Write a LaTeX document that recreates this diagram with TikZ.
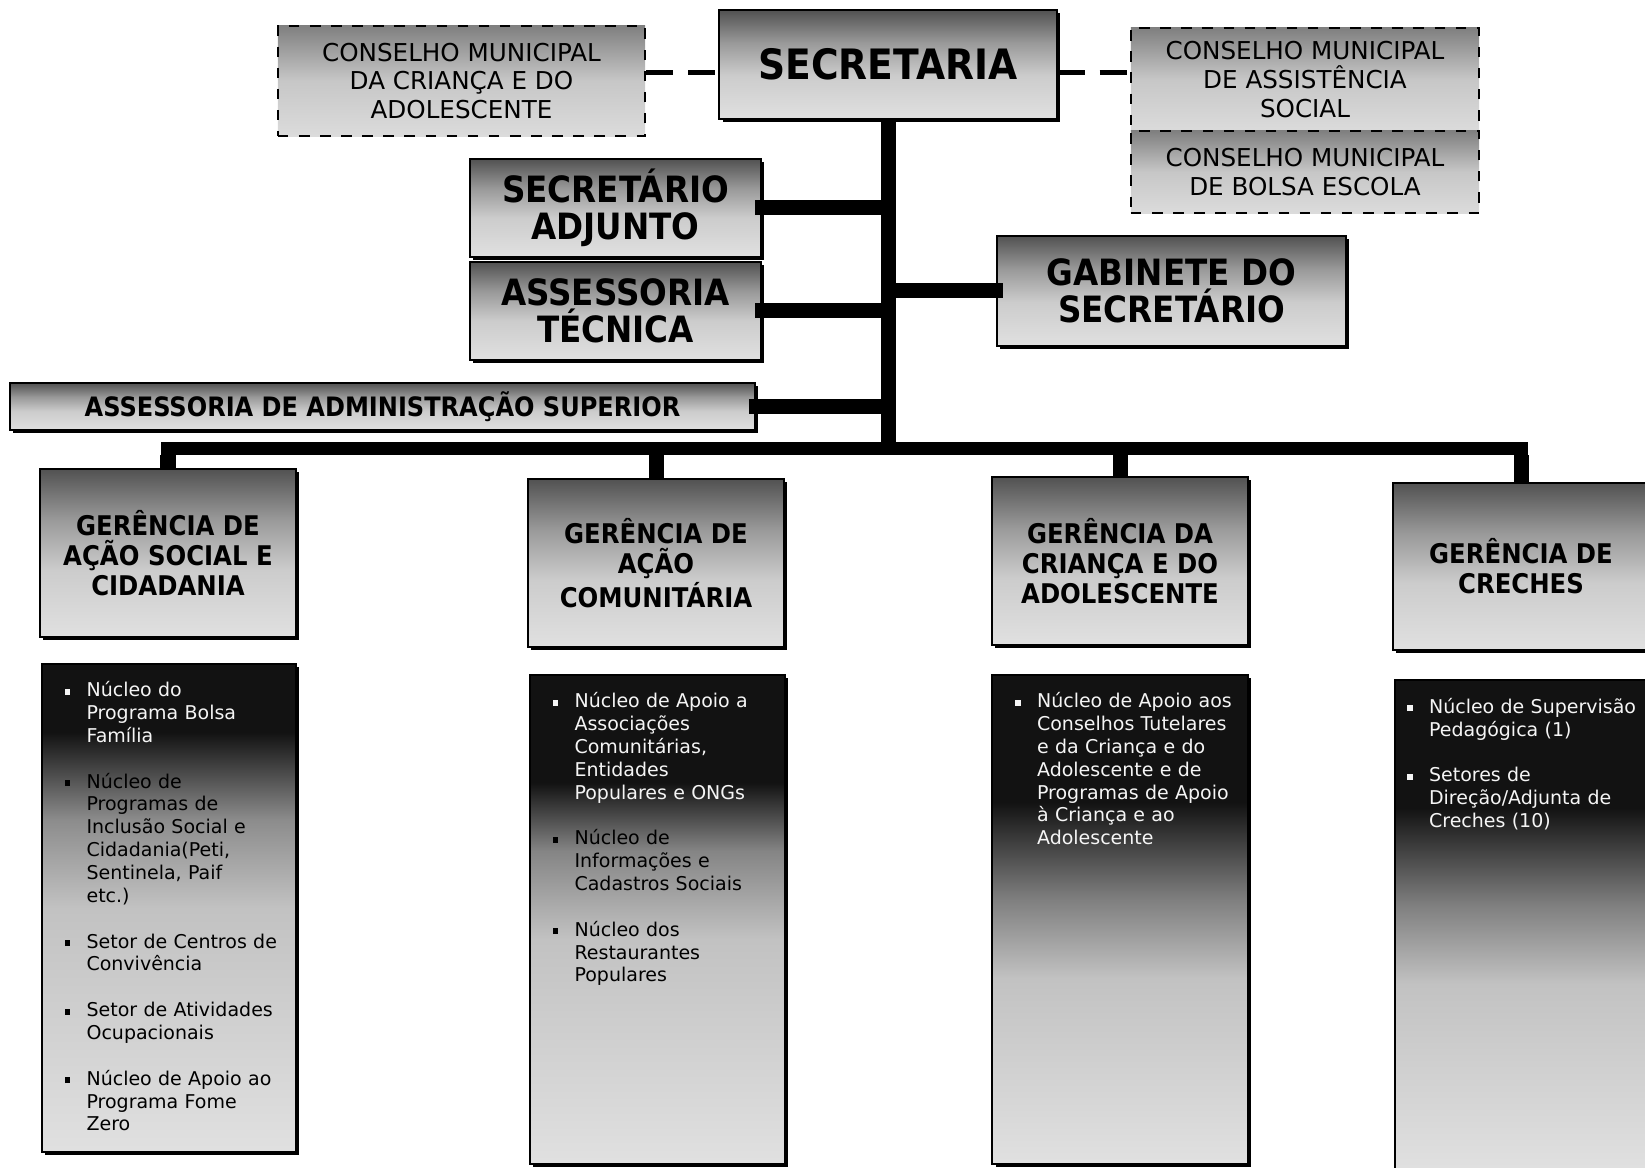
\documentclass[tikz,border=0pt]{standalone}
\usepackage{fontspec}
\setmainfont{DejaVu Sans}[BoldFeatures={FakeStretch=0.9}]
\usepackage{tikz}
\usetikzlibrary{calc,shadows}

\pgfdeclareverticalshading{hdshade}{100bp}{color(0bp)=(black!12); color(25bp)=(black!12); color(45bp)=(black!20); color(60bp)=(black!40); color(75bp)=(black!68); color(100bp)=(black!68)}
\pgfdeclareverticalshading{subshade}{100bp}{color(0bp)=(black!12); color(25bp)=(black!12); color(44bp)=(black!24); color(52bp)=(black!50); color(62bp)=(black!93); color(100bp)=(black!93)}
\pgfdeclareverticalshading{subshadeb}{100bp}{color(0bp)=(black!12); color(25bp)=(black!12); color(48bp)=(black!24); color(57bp)=(black!48); color(64bp)=(black!93); color(100bp)=(black!93)}
\pgfdeclareverticalshading{subshadea}{100bp}{color(0bp)=(black!12); color(25bp)=(black!12); color(50bp)=(black!24); color(59bp)=(black!45); color(68bp)=(black!93); color(100bp)=(black!93)}
\pgfdeclareverticalshading{cshade}{100bp}{color(0bp)=(black!14); color(25bp)=(black!14); color(50bp)=(black!22); color(75bp)=(black!50); color(100bp)=(black!50)}

\newcommand{\bul}{\leavevmode\llap{\makebox[0.22cm][l]{\rule[0.2ex]{0.55ex}{0.55ex}}}}

\begin{document}
\begin{tikzpicture}[x=0.01cm, y=-0.01cm,
        box/.style={draw=black, line width=0.6pt, shade, shading=hdshade, align=center, inner sep=0pt,
            drop shadow={shadow xshift=0.9pt, shadow yshift=-0.9pt, opacity=1, fill=black}},
        hdbox/.style={box, minimum width=2.56cm, minimum height=1.68cm, font=\bfseries\fontsize{7.7}{8.5}\selectfont},
        midbox/.style={box, minimum height=0.98cm, font=\bfseries\fontsize{10.3}{10.5}\selectfont},
        subbox/.style={box, shading=subshade, minimum width=2.55cm, minimum height=4.89cm},
        cbox/.style={draw=black, dashed, line width=0.7pt, shade, shading=cshade, align=center, inner sep=0pt,
            font=\fontsize{7}{8.2}\selectfont},
        subtext/.style={anchor=north west, inner sep=0pt, text width=2.15cm, align=left,
            font=\fontsize{5.4}{6.5}\selectfont},
        bar/.style={line width=0.15cm, line cap=rect},
        dashlink/.style={line width=0.05cm, dash pattern=on 0.27cm off 0.15cm}]
                \useasboundingbox (0,0) rectangle (1645,1168);

                \node[box, minimum width=3.37cm, minimum height=1.09cm, font=\bfseries\fontsize{11.9}{12}\selectfont] (secr) at (888,64.5) {SECRETARIA};
                \node[cbox, minimum width=3.67cm, minimum height=1.10cm] (cmca) at (461.5,81) {CONSELHO MUNICIPAL\\DA CRIANÇA E DO\\ADOLESCENTE};
                \node[cbox, minimum width=3.48cm, minimum height=1.03cm] (cmas) at (1305,79.5) {CONSELHO MUNICIPAL\\DE ASSISTÊNCIA\\SOCIAL};
                \node[cbox, minimum width=3.48cm, minimum height=0.82cm] (cmbe) at (1305,172) {CONSELHO MUNICIPAL\\DE BOLSA ESCOLA};

                \node[midbox, minimum width=2.91cm] (adj) at (615.5,208) {SECRETÁRIO\\ADJUNTO};
                \node[midbox, minimum width=2.91cm] (tec) at (615.5,311) {ASSESSORIA\\TÉCNICA};
                \node[midbox, minimum width=3.49cm, minimum height=1.10cm] (gab) at (1171.5,291) {GABINETE DO\\SECRETÁRIO};
                \node[box, minimum width=7.45cm, minimum height=0.47cm, font=\bfseries\fontsize{7.6}{8}\selectfont] (adm) at (382.5,406.5) {ASSESSORIA DE ADMINISTRAÇÃO SUPERIOR};

                \node[hdbox] (g1) at (168,553) {GERÊNCIA DE\\AÇÃO SOCIAL E\\CIDADANIA};
                \node[hdbox] (g2) at (656,563) {GERÊNCIA DE\\AÇÃO\\COMUNITÁRIA};
                \node[hdbox] (g3) at (1120,561) {GERÊNCIA DA\\CRIANÇA E DO\\ADOLESCENTE};
                \node[hdbox, minimum height=1.67cm] (g4) at (1521,566.5) {GERÊNCIA DE\\CRECHES};

                \node[subbox, shading=subshadea, minimum width=2.54cm, minimum height=4.88cm] (s1) at (169,908) {};
                \node[subbox, shading=subshadeb] (s2) at (657.5,919.5) {};
                \node[subbox] (s3) at (1120,919.5) {};
                \node[subbox] (s4) at (1523,925) {};

                \coordinate (bus) at (888,449);

                \draw[dashlink] (cmca.east |- 0,73) -- (secr.west |- 0,73);
                \draw[dashlink] (secr.east |- 0,73) -- (cmas.west |- 0,73);

                \draw[bar, line cap=butt] (secr.south) -- ([yshift=-0.06cm]secr.south |- bus);
                \draw[bar] (adj.east) -- (adj.east -| secr.south);
                \draw[bar] (tec.east) -- (tec.east -| secr.south);
                \draw[bar] (adm.east) -- (adm.east -| secr.south);
                \draw[bar] (gab.west) -- (gab.west -| secr.south);
                \draw[bar, line width=0.13cm] (g1.north |- bus) -- (g4.north |- bus);
                \draw[bar, line cap=butt] (g1.north) -- ([yshift=-0.06cm]g1.north |- bus);
                \draw[bar, line cap=butt] (g2.north) -- ([yshift=-0.06cm]g2.north |- bus);
                \draw[bar, line cap=butt] (g3.north) -- ([yshift=-0.06cm]g3.north |- bus);
                \draw[bar, line cap=butt] (g4.north) -- ([yshift=-0.06cm]g4.north |- bus);

                \node[subtext, text=black!4] (t1) at ($(s1.north west)+(45,18)$)
                    {\bul Núcleo do\\Programa Bolsa\\Família\par\vspace{6.5pt}
                     \color{black}\bul Núcleo de\\Programas de\\Inclusão Social e\\Cidadania(Peti,\\Sentinela, Paif\\etc.)\par\vspace{6.5pt}
                     \bul Setor de Centros de\\Convivência\par\vspace{6.5pt}
                     \bul Setor de Atividades\\Ocupacionais\par\vspace{6.5pt}
                     \bul Núcleo de Apoio ao\\Programa Fome\\Zero};
                \node[subtext, text=black!4] (t2) at ($(s2.north west)+(45,18)$)
                    {\bul Núcleo de Apoio a\\Associações\\Comunitárias,\\Entidades\\Populares e ONGs\par\vspace{6.5pt}
                     \color{black}\bul Núcleo de\\Informações e\\Cadastros Sociais\par\vspace{6.5pt}
                     \bul Núcleo dos\\Restaurantes\\Populares};
                \node[subtext, text=black!4] (t3) at ($(s3.north west)+(45,18)$)
                    {\bul Núcleo de Apoio aos\\Conselhos Tutelares\\e da Criança e do\\Adolescente e de\\Programas de Apoio\\à Criança e ao\\Adolescente};
                \node[subtext, text=black!4] (t4) at ($(s4.north west)+(34,18)$)
                    {\bul Núcleo de Supervisão\\Pedagógica (1)\par\vspace{6.5pt}
                     \bul Setores de\\Direção/Adjunta de\\Creches (10)};

            \end{tikzpicture}
\end{document}
